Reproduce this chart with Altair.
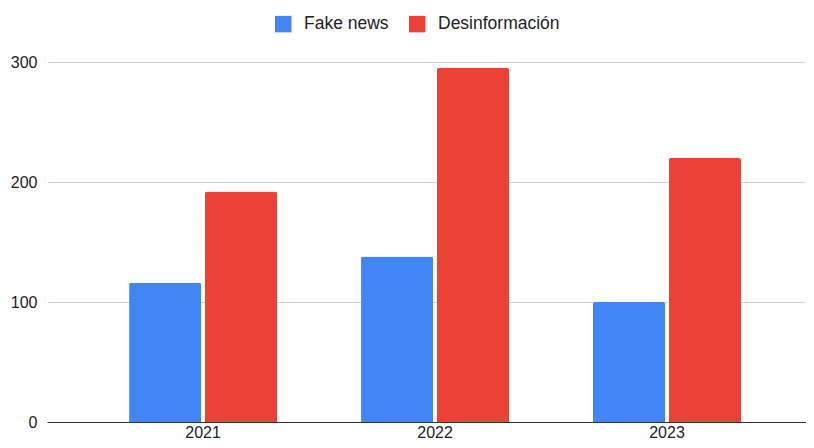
import altair as alt
import pandas as pd

years = ["2021", "2022", "2023"]
series = ["Fake news", "Desinformación"]
fake_news = [116, 138, 100]
desinformacion = [192, 295, 220]
y_ticks = [0, 100, 200, 300]
colors = ["#4285F4", "#EA4335"]

rows = []
for i, yr in enumerate(years):
    rows.append({"year": yr, "series": series[0], "value": fake_news[i]})
    rows.append({"year": yr, "series": series[1], "value": desinformacion[i]})
df = pd.DataFrame(rows)

FONT = "Liberation Sans"

chart = alt.Chart(df).mark_bar(
    cornerRadiusTopLeft=2, cornerRadiusTopRight=2
).encode(
    x=alt.X("year:N", title=None, sort=years,
            scale=alt.Scale(paddingInner=0.362, paddingOuter=0.317, align=0.558),
            axis=alt.Axis(labelAngle=0, ticks=False, domain=True, domainColor="#333333",
                          domainWidth=1, labelPadding=2, labelFontSize=16,
                          labelColor="#222222", labelFont=FONT, grid=False)),
    xOffset=alt.XOffset("series:N", sort=series, scale=alt.Scale(paddingInner=0.05)),
    y=alt.Y("value:Q", title=None,
            scale=alt.Scale(domain=[0, 300], nice=False),
            axis=alt.Axis(values=y_ticks, ticks=False, domain=False, grid=True,
                          gridColor="#d4d4d4", gridWidth=1, labelPadding=10,
                          labelFontSize=16, labelColor="#222222", labelFont=FONT)),
    color=alt.Color("series:N", sort=series,
                    scale=alt.Scale(domain=series, range=colors),
                    legend=alt.Legend(title=None, orient="none", direction="horizontal",
                                      legendX=227.5, legendY=-47, symbolType="square",
                                      symbolSize=272, symbolStrokeWidth=0,
                                      labelFontSize=17.5, labelFont=FONT,
                                      labelColor="#222222", labelOffset=12,
                                      columnPadding=19, padding=0)),
).properties(
    width=759, height=360,
    autosize=alt.AutoSizeParams(type="none"),
    padding={"left": 39, "top": 54, "right": 0, "bottom": 18},
).configure_view(stroke=None)

chart.save("out.html", embed_options={"renderer": "svg", "actions": False})
